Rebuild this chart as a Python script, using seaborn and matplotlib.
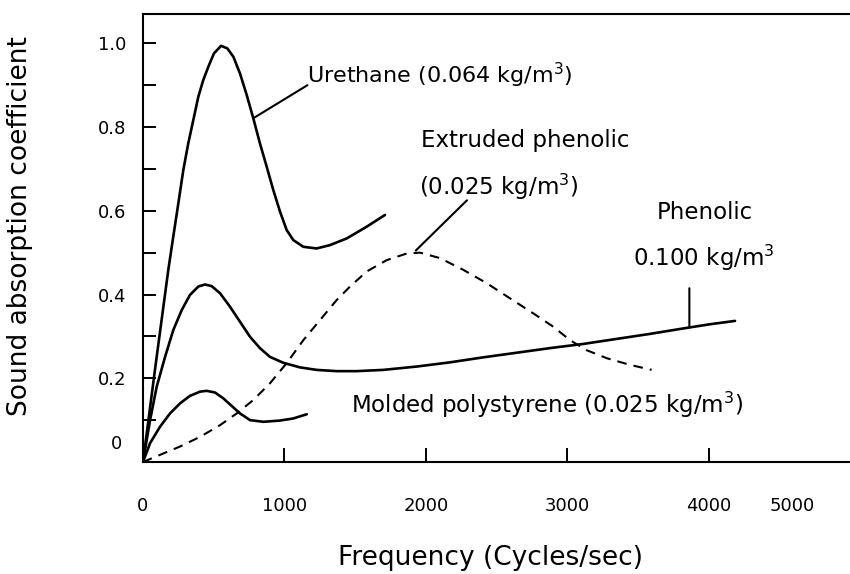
import numpy as np
import pandas as pd
import matplotlib
matplotlib.use('Agg')
import matplotlib.pyplot as plt
import seaborn as sns

# Values (frequency in cycles/sec, absorption coefficient)
urethane_f = [0, 88, 179, 214, 250, 285, 320, 356, 391, 426, 462, 502, 552, 596, 639, 686, 733,
              780, 827, 875, 921, 969, 1016, 1063, 1134, 1228, 1322, 1441, 1582, 1711]
urethane_a = [0, 0.229, 0.459, 0.538, 0.618, 0.697, 0.761, 0.817, 0.872, 0.912, 0.944, 0.976, 0.994,
              0.988, 0.968, 0.928, 0.877, 0.821, 0.761, 0.705, 0.650, 0.598, 0.554, 0.530, 0.514,
              0.510, 0.518, 0.534, 0.562, 0.590]

phenolic_f = [0, 50, 97, 156, 214, 274, 332, 391, 438, 486, 545, 615, 686, 757, 827, 898, 992,
              1110, 1228, 1370, 1511, 1700, 1936, 2171, 2407, 2643, 2878, 3114, 3350, 3586, 3821,
              4010, 4187]
phenolic_a = [0, 0.100, 0.180, 0.251, 0.315, 0.363, 0.399, 0.419, 0.424, 0.420, 0.403, 0.371, 0.335,
              0.299, 0.272, 0.251, 0.237, 0.226, 0.220, 0.217, 0.217, 0.220, 0.228, 0.238, 0.250,
              0.261, 0.272, 0.282, 0.294, 0.306, 0.319, 0.329, 0.337]

polystyrene_f = [0, 50, 120, 191, 262, 332, 403, 450, 509, 568, 627, 686, 757, 851, 969, 1063, 1158]
polystyrene_a = [0, 0.045, 0.084, 0.116, 0.140, 0.158, 0.168, 0.170, 0.166, 0.152, 0.134, 0.116,
                 0.100, 0.096, 0.099, 0.104, 0.114]

extruded_f = [0, 120, 262, 403, 545, 663, 780, 898, 1016, 1134, 1252, 1370, 1464, 1582, 1723, 1865,
              1959, 2100, 2265, 2431, 2595, 2760, 2902, 3020, 3138, 3279, 3444, 3597]
extruded_a = [0, 0.017, 0.037, 0.060, 0.088, 0.116, 0.148, 0.188, 0.236, 0.291, 0.339, 0.387, 0.419,
              0.455, 0.482, 0.498, 0.500, 0.487, 0.459, 0.427, 0.391, 0.355, 0.323, 0.291, 0.267,
              0.248, 0.232, 0.220]

x_ticks = [0, 1000, 2000, 3000, 4000]
y_ticks = [0.2, 0.4, 0.6, 0.8, 1.0]

sns.set_theme(style='white')
plt.rcParams['font.family'] = ['DejaVu Sans']
plt.rcParams['text.color'] = 'black'
plt.rcParams['axes.labelcolor'] = 'black'
plt.rcParams['xtick.color'] = 'black'
plt.rcParams['ytick.color'] = 'black'

fig = plt.figure(figsize=(8.5, 5.74), dpi=100)
ax = fig.add_axes([143/850, 112/574, 707/850, 448/574])

lw = 1.9
sns.lineplot(x=urethane_f, y=urethane_a, sort=False, estimator=None, color='black', lw=lw, ax=ax)
sns.lineplot(x=phenolic_f, y=phenolic_a, sort=False, estimator=None, color='black', lw=lw, ax=ax)
sns.lineplot(x=polystyrene_f, y=polystyrene_a, sort=False, estimator=None, color='black', lw=lw, ax=ax)
sns.lineplot(x=extruded_f, y=extruded_a, sort=False, estimator=None, color='black', lw=1.5,
             linestyle=(0, (4.6, 3.4)), ax=ax)

ax.set_xlim(0, 5000)
ax.set_ylim(0, 1.07)

for s in ['left', 'bottom', 'top']:
    ax.spines[s].set_visible(True)
    ax.spines[s].set_color('black')
    ax.spines[s].set_linewidth(1.5)
ax.spines['right'].set_visible(False)

ax.set_xticks(x_ticks)
ax.set_xticklabels([str(t) for t in x_ticks])
ax.set_xticks([4590], minor=True)
ax.set_xticklabels(['5000'], minor=True)
ax.set_yticks(y_ticks)
ax.set_yticklabels([f'{t:.1f}' for t in y_ticks])
ax.set_yticks([0.1, 0.3, 0.5, 0.7, 0.9], minor=True)

ax.tick_params(axis='x', which='major', direction='in', length=10, width=1.4, pad=25,
               labelsize=13, bottom=True)
ax.tick_params(axis='x', which='minor', length=0, pad=25, labelsize=13, bottom=True)
ax.tick_params(axis='y', which='both', direction='in', length=9.5, width=1.4, pad=12,
               labelsize=13, left=True)
ax.annotate('0', xy=(0, 0), xycoords=('axes fraction', 'data'), xytext=(-15, 13),
            textcoords='offset points', ha='right', va='center', fontsize=13)

ax.set_xlabel('Frequency (Cycles/sec)', fontsize=19)
ax.xaxis.set_label_coords(0.492, -0.185)
ax.set_ylabel('Sound absorption coefficient', fontsize=19)
ax.yaxis.set_label_coords(-0.156, 0.527)

fs = 16.5
lead = dict(arrowstyle='-', lw=1.5, color='black', shrinkA=0, shrinkB=0)
ax.text(1163, 0.924, 'Urethane (0.064 kg/m$^3$)', fontsize=16, ha='left', va='center')
ax.annotate('', xy=(780, 0.821), xytext=(1163, 0.900), arrowprops=lead)

ax.text(1965, 0.768, 'Extruded phenolic', fontsize=fs, ha='left', va='center')
ax.text(1950, 0.656, '(0.025 kg/m$^3$)', fontsize=fs, ha='left', va='center')
ax.annotate('', xy=(1929, 0.505), xytext=(2291, 0.625), arrowprops=lead)

ax.text(3972, 0.597, 'Phenolic', fontsize=fs, ha='center', va='center')
ax.text(3965, 0.487, '0.100 kg/m$^3$', fontsize=fs, ha='center', va='center')
ax.annotate('', xy=(3864, 0.322), xytext=(3864, 0.415), arrowprops=lead)

ax.text(1468, 0.136, 'Molded polystyrene (0.025 kg/m$^3$)', fontsize=fs, ha='left', va='center')

fig.savefig('out.png', dpi=100)
